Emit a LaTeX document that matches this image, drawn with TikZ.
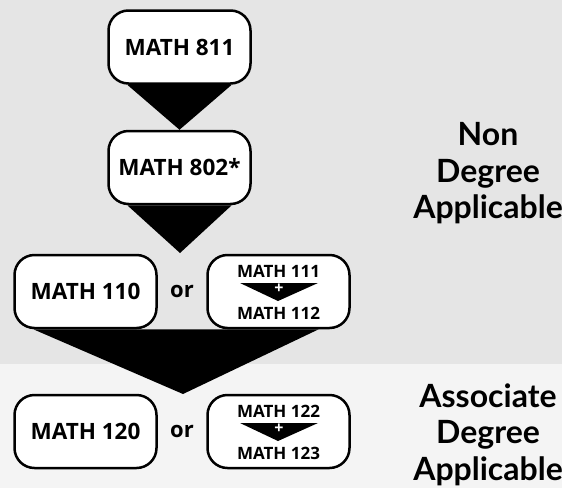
\documentclass[tikz,border=0pt]{standalone}
\usepackage{fontspec}
\setmainfont{Open Sans}
\newfontfamily\lblfont{Lato}
\usetikzlibrary{calc}
\definecolor{nongray}{RGB}{229,229,229}
\definecolor{assocgray}{RGB}{244,244,244}
\begin{document}
\begin{tikzpicture}[
  x=1pt,y=-1pt,
  course/.style={draw,line width=2.5pt,rounded corners=20pt,fill=white,
    minimum width=142pt,minimum height=73pt,inner sep=0pt,
    font=\bfseries\fontsize{22.5}{26}\selectfont},
  pair/.style={inner sep=0pt,font=\bfseries\fontsize{17}{20}\selectfont},
  plus/.style={inner sep=0pt,text=white,font=\bfseries\fontsize{16}{18}\selectfont},
  ortext/.style={inner sep=0pt,font=\bfseries\fontsize{22}{25}\selectfont},
  lbl/.style={inner sep=0pt,anchor=base,font=\lblfont\bfseries\fontsize{32}{37}\selectfont}
]
  \useasboundingbox (0,0) rectangle (562,488);
  \fill[nongray] (0,0) rectangle (562,364);
  \fill[assocgray] (0,364) rectangle (562,488);

  \node[course] (m811) at (179.5,47)    {MATH 811};
  \node[course] (m802) at (179.5,167.5) {MATH 802*};
  \node[course] (m110) at (85.5,291.5)  {MATH 110};
  \node[course] (b111) at (278.5,291.5) {};
  \node[course] (m120) at (85.5,431.5)  {MATH 120};
  \node[course] (b122) at (278.5,431.5) {};
  \node[ortext] (or1) at (182,291) {or};
  \node[ortext] (or2) at (182,431) {or};
  \coordinate (split) at (180,253);
  \coordinate (join)  at (183,394);

  \fill ($(m811.south west)+(20,0)$) -- ($(m811.south east)+(-20,0)$) -- (m802.north) -- cycle;
  \fill ($(m802.south west)+(20,0)$) -- ($(m802.south east)+(-20,0)$) -- (split) -- cycle;
  \fill ($(m110.south west)+(20,0)$) -- ($(b111.south east)+(-32,0)$) -- (join) -- cycle;

  \fill ($(b111)+(-38.5,-8.5)$) -- ($(b111)+(39.5,-8.5)$) -- ($(b111)+(-0.5,9.5)$) -- cycle;
  \node[plus] (p111) at ($(b111)+(0.5,-2.5)$) {+};
  \node[pair] (m111) at ($(b111)+(0,-20)$)   {MATH 111};
  \node[pair] (m112) at ($(b111)+(0,21.5)$)  {MATH 112};

  \fill ($(b122)+(-38.5,-8.5)$) -- ($(b122)+(39.5,-8.5)$) -- ($(b122)+(-0.5,9.5)$) -- cycle;
  \node[plus] (p122) at ($(b122)+(0.5,-2.5)$) {+};
  \node[pair] (m122) at ($(b122)+(0,-20)$)   {MATH 122};
  \node[pair] (m123) at ($(b122)+(0,21.5)$)  {MATH 123};

  \node[lbl] (non)   at (488,145) {Non};
  \node[lbl] (deg1)  at (488,182) {Degree};
  \node[lbl] (app1)  at (488,218) {Applicable};
  \node[lbl] (assoc) at (488,407) {Associate};
  \node[lbl] (deg2)  at (488,443) {Degree};
  \node[lbl] (app2)  at (488,480) {Applicable};
\end{tikzpicture}
\end{document}
